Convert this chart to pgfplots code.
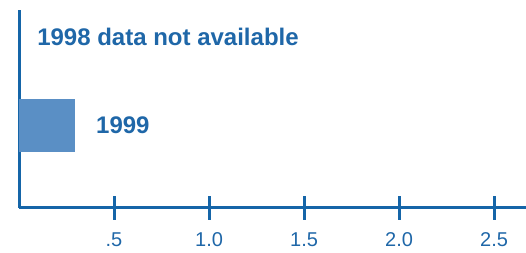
\documentclass[border=0pt]{standalone}
\usepackage{pgfplots}
\pgfplotsset{compat=1.18}
\usepackage{fontspec}
\setmainfont{Liberation Sans}
\definecolor{txtblue}{HTML}{1F67A8}
\definecolor{axblue}{HTML}{1565A8}
\definecolor{barblue}{HTML}{5A8FC5}
\begin{document}
\begin{tikzpicture}
\useasboundingbox (0,0) rectangle (526pt,253pt);
\begin{axis}[
  at={(19pt,45pt)}, anchor=south west,
  scale only axis,
  width=507pt, height=198pt,
  xmin=0, xmax=2.668, ymin=0, ymax=198,
  axis lines=left,
  axis line style={-, line width=3pt, color=axblue},
  xbar, bar width=53,
  ytick=\empty,
  xtick={0.5,1,1.5,2,2.5},
  xticklabels={.5,1.0,1.5,2.0,2.5},
  tick align=center,
  major tick length=24pt,
  xtick style={line width=3pt, color=axblue},
  /pgf/number format/assume math mode=true,
  xticklabel style={font=\fontsize{20}{24}\selectfont, text=txtblue, anchor=north, yshift=-9pt},
  clip=false,
]
\addplot[fill=barblue, draw=none] coordinates {(0.295,82.5)};
\node[anchor=west, text=txtblue, font=\fontsize{24}{28}\selectfont\bfseries, inner sep=0pt] at (axis cs:0.405,82.5) {1999};
\node[anchor=west, text=txtblue, font=\fontsize{24}{28}\selectfont\bfseries, inner sep=0pt] at (axis cs:0.095,171) {1998 data not available};
\end{axis}
\end{tikzpicture}
\end{document}
